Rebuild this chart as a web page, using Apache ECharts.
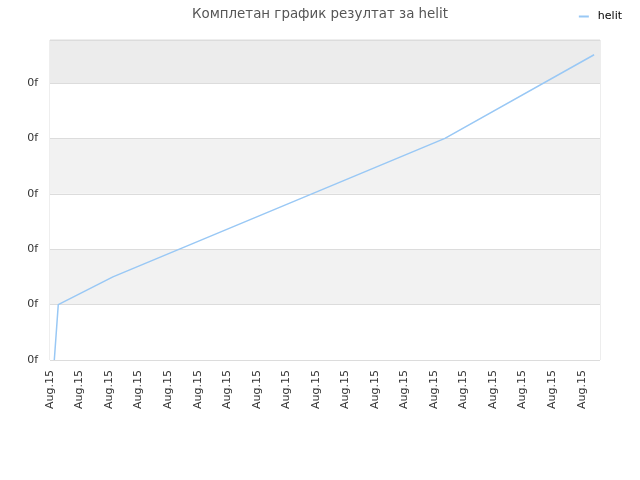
<!DOCTYPE html>
<html>
<head>
<meta charset="utf-8">
<script src="https://cdn.jsdelivr.net/npm/echarts@6/dist/echarts.min.js"></script>
<style>html,body{margin:0;padding:0;background:#fff;}#c{width:640px;height:480px;}</style>
</head>
<body>
<div id="c"></div>
<script>
// Data (x: label-step units, y: gridline units)
const seriesName = 'helit';
const titleText = 'Комплетан график резултат за helit';
const xTickLabel = 'Aug.15';
const yTickLabel = '0f';
const xValues = [0.146, 0.28, 2.13, 13.37, 18.42];
const yValues = [0.0, 1.0, 1.5, 4.0, 5.51];

const points = xValues.map((x, i) => [x, yValues[i]]);

const chart = echarts.init(document.getElementById('c'), null, {renderer: 'canvas'});
chart.setOption({
  animation: false,
  backgroundColor: '#fff',
  title: {
    text: titleText,
    left: 'center',
    top: 3,
    textStyle: {fontFamily: 'DejaVu Sans', fontSize: 13.4, fontWeight: 'normal', color: '#555'}
  },
  legend: {
    data: [{name: seriesName, icon: 'rect'}],
    right: 13,
    top: 6,
    itemWidth: 10,
    itemHeight: 2,
    itemGap: 8,
    textStyle: {fontFamily: 'DejaVu Sans', fontSize: 11, color: '#000', padding: [0, 0, 0, 4]}
  },
  grid: {
    left: 50, right: 40, top: 40, bottom: 120,
    show: true, borderColor: '#dcdcdc', borderWidth: 1, backgroundColor: 'transparent',
    containLabel: false
  },
  xAxis: {
    type: 'value',
    min: 0,
    max: 18.62,
    interval: 1,
    axisLine: {show: false},
    axisTick: {show: false},
    splitLine: {show: false},
    axisLabel: {
      rotate: 90,
      margin: 10,
      showMaxLabel: false,
      fontFamily: 'DejaVu Sans',
      fontSize: 11,
      color: '#333',
      formatter: () => xTickLabel
    }
  },
  yAxis: {
    type: 'value',
    min: 0,
    max: 5.776,
    interval: 1,
    axisLine: {show: false},
    axisTick: {show: false},
    splitLine: {show: true, lineStyle: {color: '#dcdcdc', width: 1}},
    splitArea: {show: true, areaStyle: {color: ['#ffffff', '#f2f2f2', '#ffffff', '#f2f2f2', '#ffffff', '#ececec']}},
    axisLabel: {
      margin: 12,
      showMaxLabel: false,
      fontFamily: 'DejaVu Sans',
      fontSize: 11,
      color: '#333',
      formatter: () => yTickLabel
    }
  },
  series: [{
    name: seriesName,
    type: 'line',
    data: points,
    showSymbol: false,
    symbol: 'none',
    lineStyle: {color: '#99c8f5', width: 1.5},
    itemStyle: {color: '#99c8f5'}
  }]
});
</script>
</body>
</html>
